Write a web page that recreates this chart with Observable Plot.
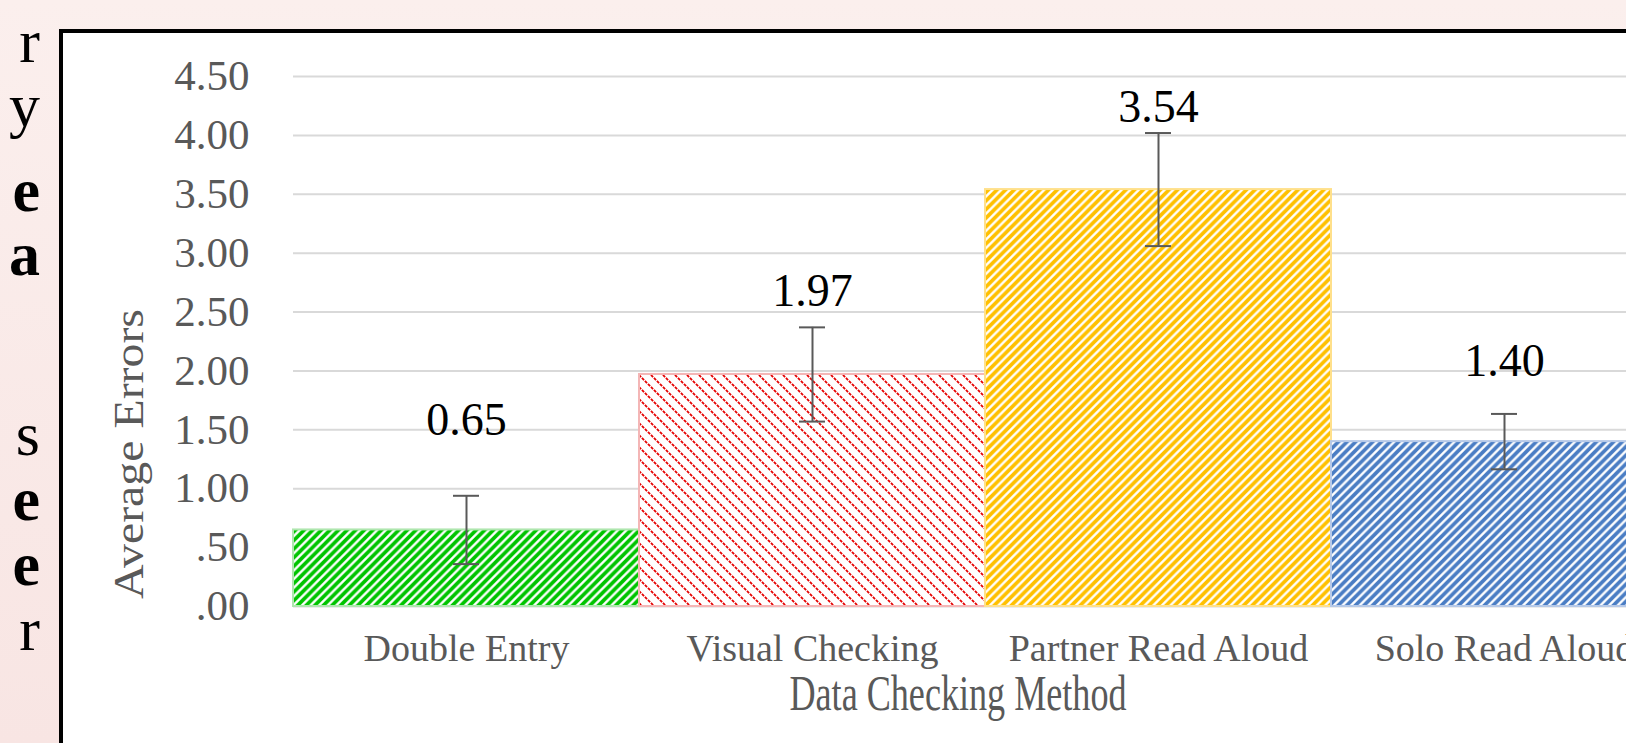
<!DOCTYPE html>
<html><head><meta charset="utf-8">
<script src="https://cdn.jsdelivr.net/npm/d3@7"></script>
<script src="https://cdn.jsdelivr.net/npm/@observablehq/plot@0.6"></script>
<style>
html,body{margin:0;padding:0;width:1626px;height:743px;overflow:hidden;}
body{background:linear-gradient(180deg,#fbefed 0%,#f8e5e3 100%);position:relative;}
#box{position:absolute;left:59px;top:29px;width:1700px;height:800px;border:4.5px solid #000;background:#fff;box-sizing:border-box;}
#side{position:absolute;left:0;top:0;}
#chart{position:absolute;left:0;top:0;width:1700px;}
#chart svg{max-width:none !important;width:1700px;height:743px;}
</style></head><body>
<svg id="side" width="60" height="743"></svg>
<div id="box"></div>
<div id="chart"></div>
<script>
// ---- data ----
const categories = ["Double Entry", "Visual Checking", "Partner Read Aloud", "Solo Read Aloud"];
const means = [0.65, 1.97, 3.54, 1.40];
const errors = [0.29, 0.40, 0.48, 0.235];
const labelAt = [1.58, 2.68, 4.24, 2.08];
const yTicks = [0, 0.5, 1, 1.5, 2, 2.5, 3, 3.5, 4, 4.5];
const sideLetters = ["r", "y", "e", "a", "s", "e", "e", "r"];
const xTitle = "Data Checking Method";
const yTitle = "Average Errors";

// ---- styles ----
const barColors = ["#00c400", "#e60000", "#ffc000", "#4a7dc4"];
const outlineColors = ["#aee6ae", "#f4b6b6", "#ffe08a", "#b6c9e8"];
const sideBaselines = [62, 126, 211, 275, 455, 520, 585, 650];
const sideBold = [false, false, true, true, false, true, true, false];

(function () {
  const side = d3.select("#side");
  sideLetters.forEach((t, i) => {
    side.append("text").attr("x", 40).attr("y", sideBaselines[i])
      .attr("text-anchor", "end").attr("font-family", '"Liberation Serif", serif')
      .attr("font-weight", sideBold[i] ? "bold" : "normal").attr("font-size", 62).attr("fill", "#000").text(t);
  });

  const W = 1700, H = 743;
  const mLeft = 293, mRight = 1677, mTop = 76, mBottom = 606;
  const bw = (mRight - mLeft) / categories.length;
  const capHalf = 13;
  const data = categories.map((c, i) => ({c, v: means[i], e: errors[i], l: labelAt[i], i}));
  const fmt = d => d < 1 ? d.toFixed(2).replace(/^0/, "") : d.toFixed(2);

  const chart = Plot.plot({
    width: W, height: H,
    marginLeft: mLeft, marginRight: W - mRight, marginTop: mTop, marginBottom: H - mBottom,
    style: {background: "transparent", fontFamily: '"Liberation Serif", serif', overflow: "visible", maxWidth: "none"},
    x: {domain: categories, padding: 0, label: null},
    y: {domain: [0, 4.5], label: null},
    color: {type: "identity"},
    marks: [
      Plot.gridY(yTicks, {stroke: "#d9d9d9", strokeOpacity: 1, strokeWidth: 2}),
      Plot.axisY(yTicks, {tickSize: 0, tickPadding: 44, fontSize: 43, fill: "#595959", tickFormat: fmt, label: null}),
      Plot.axisX({tickSize: 0, tickPadding: 28, fontSize: 38, fill: "#595959", label: null}),
      Plot.barY(data, {x: "c", y: "v", fill: d => `url(#pat${d.i})`, stroke: d => outlineColors[d.i], strokeWidth: 2}),
      Plot.ruleX(data, {x: "c", y1: d => d.v - d.e, y2: d => d.v + d.e, stroke: "#595959", strokeWidth: 2}),
      Plot.tickY(data, {x: "c", y: d => d.v + d.e, stroke: "#595959", strokeWidth: 2, insetLeft: bw / 2 - capHalf, insetRight: bw / 2 - capHalf}),
      Plot.tickY(data, {x: "c", y: d => d.v - d.e, stroke: "#595959", strokeWidth: 2, insetLeft: bw / 2 - capHalf, insetRight: bw / 2 - capHalf}),
      Plot.text(data, {x: "c", y: "l", text: d => d.v.toFixed(2), fontSize: 46, fill: "#000"})
    ]
  });
  document.getElementById("chart").appendChild(chart);

  // hatch patterns
  const svg = d3.select(chart);
  const defs = svg.insert("defs", ":first-child");
  barColors.forEach((col, i) => {
    const red = i === 1;
    const w = red ? 12 : 8.6;
    const p = defs.append("pattern").attr("id", `pat${i}`).attr("patternUnits", "userSpaceOnUse")
      .attr("width", w).attr("height", w);
    p.append("rect").attr("width", w).attr("height", w).attr("fill", "#fff");
    const d = red
      ? `M0,0L${w},${w}M${-w/2},${w/2}L${w/2},${1.5*w}M${w/2},${-w/2}L${1.5*w},${w/2}`
      : `M0,${w}L${w},0M${-w/2},${w/2}L${w/2},${-w/2}M${w/2},${1.5*w}L${1.5*w},${w/2}`;
    p.append("path").attr("d", d).attr("stroke", col)
      .attr("stroke-width", red ? 1.8 : 3.7)
      .attr("stroke-dasharray", red ? "3 1.2" : null);
  });

  // axis titles
  svg.append("text").attr("x", 958).attr("y", 710).attr("text-anchor", "middle")
    .attr("font-family", '"Liberation Serif", serif').attr("font-size", 50).attr("fill", "#595959")
    .attr("textLength", 337).attr("lengthAdjust", "spacingAndGlyphs").text(xTitle);
  svg.append("text").attr("transform", "translate(143,454) rotate(-90)").attr("text-anchor", "middle")
    .attr("font-family", '"Liberation Serif", serif').attr("font-size", 42).attr("fill", "#595959")
    .attr("textLength", 290).attr("lengthAdjust", "spacingAndGlyphs").text(yTitle);
})();
</script>
</body></html>
